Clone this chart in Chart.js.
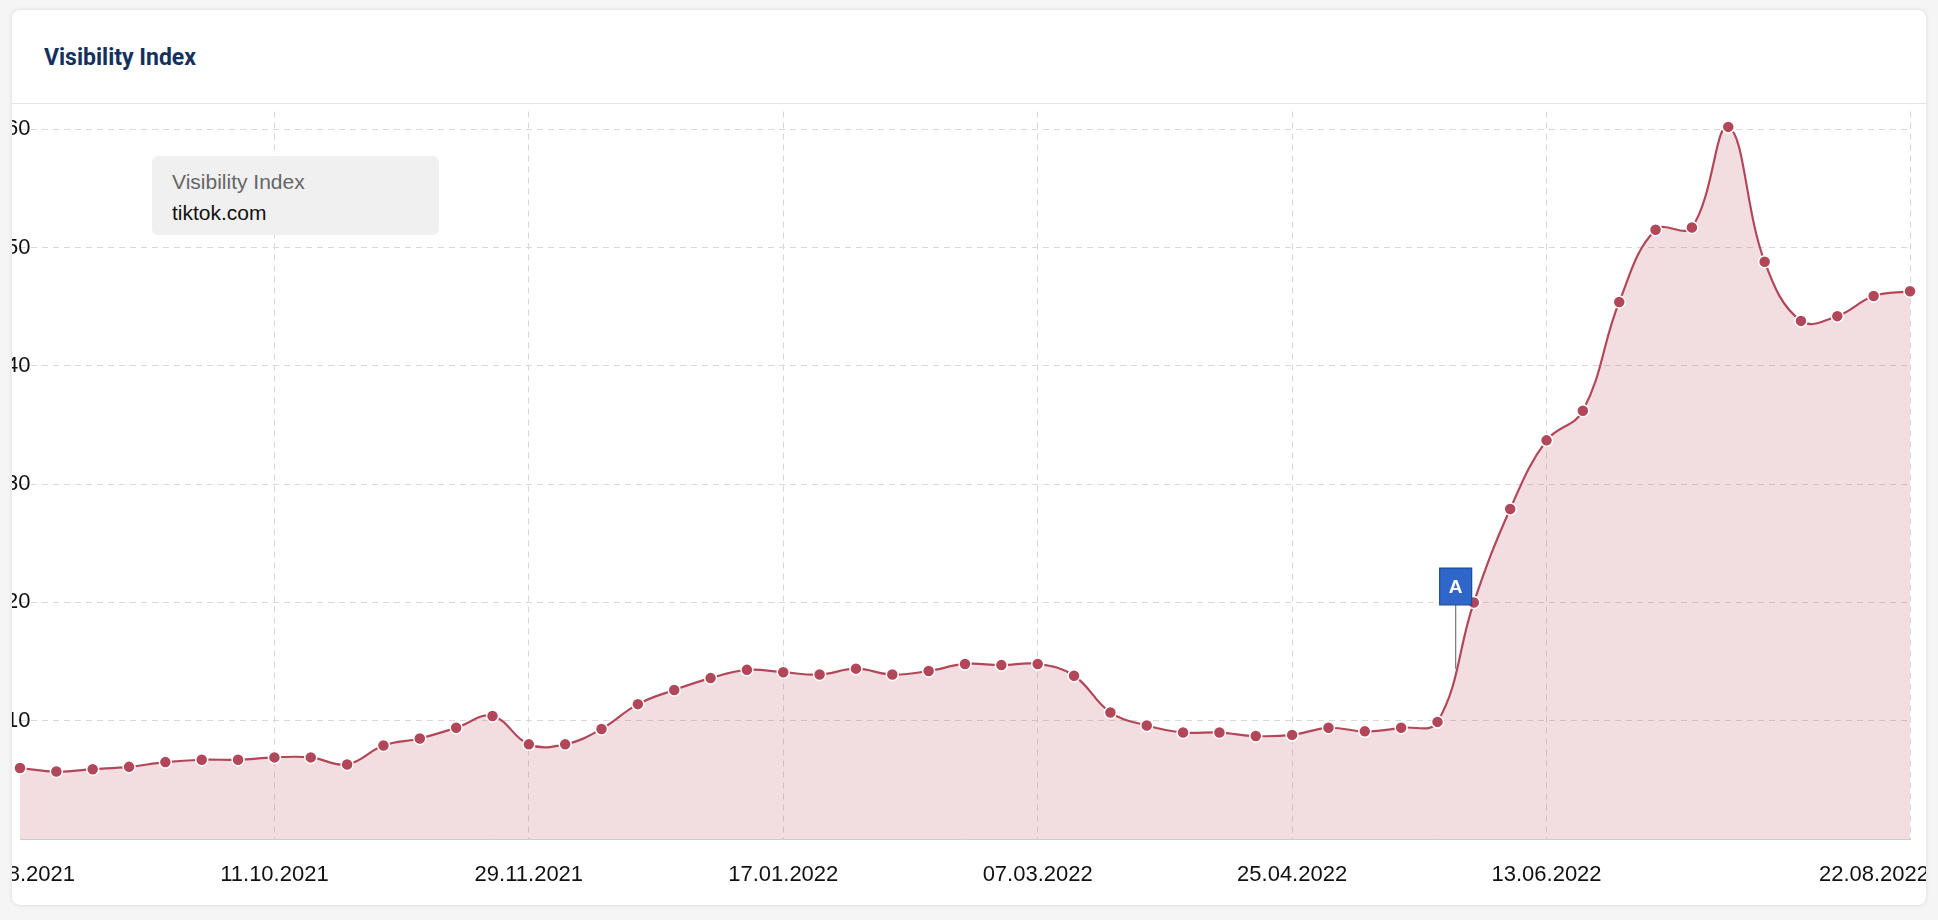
<!DOCTYPE html>
<html><head><meta charset="utf-8">
<script src="https://cdn.jsdelivr.net/npm/chart.js@4"></script>
<style>
body{margin:0;background:#f5f5f5;width:1938px;height:920px;overflow:hidden;font-family:"Liberation Sans",Arial,sans-serif}
#card{position:absolute;left:12px;top:10px;width:1914px;height:895px;background:#fff;border-radius:8px;box-shadow:0 0 4px rgba(0,0,0,0.12);overflow:hidden}
#title{position:absolute;left:32px;top:34px;font:bold 23px Roboto,sans-serif;color:#13315c}
#sep{position:absolute;left:0;right:0;top:93px;border-top:1px solid #e3e3e3}
#wrap{position:absolute;left:0;top:94px;width:1914px;height:801px}
#leg{position:absolute;left:140px;top:146px;width:287px;height:79px;background:#f0f0f0;border-radius:6px;font-size:21px;padding:10px 20px;box-sizing:border-box;line-height:31px}
</style></head><body>
<div id="card"><div id="title">Visibility Index</div><div id="sep"></div>
<div id="wrap"><canvas id="c" width="1914" height="801"></canvas></div>
<div id="leg"><div style="color:#666">Visibility Index</div><div style="color:#111">tiktok.com</div></div>
</div>
<script>
const dates=["23.08.2021","30.08.2021","06.09.2021","13.09.2021","20.09.2021","27.09.2021","04.10.2021","11.10.2021","18.10.2021","25.10.2021","01.11.2021","08.11.2021","15.11.2021","22.11.2021","29.11.2021","06.12.2021","13.12.2021","20.12.2021","27.12.2021","03.01.2022","10.01.2022","17.01.2022","24.01.2022","31.01.2022","07.02.2022","14.02.2022","21.02.2022","28.02.2022","07.03.2022","14.03.2022","21.03.2022","28.03.2022","04.04.2022","11.04.2022","18.04.2022","25.04.2022","02.05.2022","09.05.2022","16.05.2022","23.05.2022","30.05.2022","06.06.2022","13.06.2022","20.06.2022","27.06.2022","04.07.2022","11.07.2022","18.07.2022","25.07.2022","01.08.2022","08.08.2022","15.08.2022","22.08.2022"];
const values=[6.0,5.7,5.9,6.1,6.5,6.7,6.7,6.9,6.9,6.3,7.9,8.5,9.4,10.4,8.0,8.0,9.3,11.4,12.6,13.6,14.3,14.1,13.9,14.4,13.9,14.2,14.8,14.7,14.8,13.8,10.7,9.6,9.0,9.0,8.7,8.8,9.4,9.1,9.4,9.9,20.0,27.9,33.7,36.2,45.4,51.5,51.7,60.2,48.8,43.8,44.2,45.9,46.3];
const shownTicks=[0,7,14,21,28,35,42,52];
const yTicks=[10,20,30,40,50,60];
const annotations=[{pos:39.5,label:"A"}];
const red="#b3475a";
const labelPlugin={id:'xl',afterDraw(ch){const x=ch.scales.x,ctx=ch.ctx;ctx.save();ctx.font='22px "Liberation Sans",Arial';ctx.fillStyle='#111';ctx.textBaseline='middle';
shownTicks.forEach(i=>{let px=x.getPixelForValue(i);ctx.textAlign='center';if(i===dates.length-1){px-=36;}ctx.fillText(dates[i],px,ch.chartArea.bottom+36);});
const y=ch.scales.y;
annotations.forEach(a=>{const i0=Math.floor(a.pos),f=a.pos-i0;const px=x.getPixelForValue(i0)*(1-f)+x.getPixelForValue(i0+1)*f;
const top=y.getPixelForValue(22.9),bot=y.getPixelForValue(19.8),lineEnd=y.getPixelForValue(14.4);
ctx.strokeStyle='#777';ctx.lineWidth=1.2;ctx.beginPath();ctx.moveTo(px,bot);ctx.lineTo(px,lineEnd);ctx.stroke();
ctx.fillStyle='#2f66c9';ctx.strokeStyle='#1d4b9e';ctx.beginPath();ctx.rect(px-16,top,32,bot-top);ctx.fill();ctx.stroke();
ctx.fillStyle='#fff';ctx.font='bold 19px "Liberation Sans",Arial';ctx.textAlign='center';ctx.fillText(a.label,px,(top+bot)/2+1);});
ctx.restore();}};
new Chart(document.getElementById('c'),{type:'line',
data:{labels:dates,datasets:[{data:values,borderColor:red,borderWidth:2.2,backgroundColor:'rgba(190,90,105,0.2)',fill:'origin',tension:0.4,pointRadius:6,pointBackgroundColor:red,pointBorderColor:'#fff',pointBorderWidth:1.5}]},
options:{responsive:false,animation:false,plugins:{legend:{display:false},tooltip:{enabled:false}},
layout:{padding:{left:8,right:16,top:5,bottom:66}},
scales:{x:{ticks:{display:false,autoSkip:false},
grid:{drawTicks:false,color:c=>shownTicks.includes(c.index)&&c.index>0?'#d6d6d6':'rgba(0,0,0,0)'},
border:{display:true,dash:[6,5],color:'#ccc'}},
y:{min:0,max:61.5,afterFit:s=>{s.width=0},afterBuildTicks:s=>{s.ticks=yTicks.map(v=>({value:v}))},
ticks:{mirror:true,padding:-14,color:'#111',font:{size:22,family:'"Liberation Sans",Arial'}},
grid:{drawTicks:false,color:'#d9d9d9'},border:{display:false,dash:[6,5]}}}},
plugins:[labelPlugin]});
</script></body></html>
